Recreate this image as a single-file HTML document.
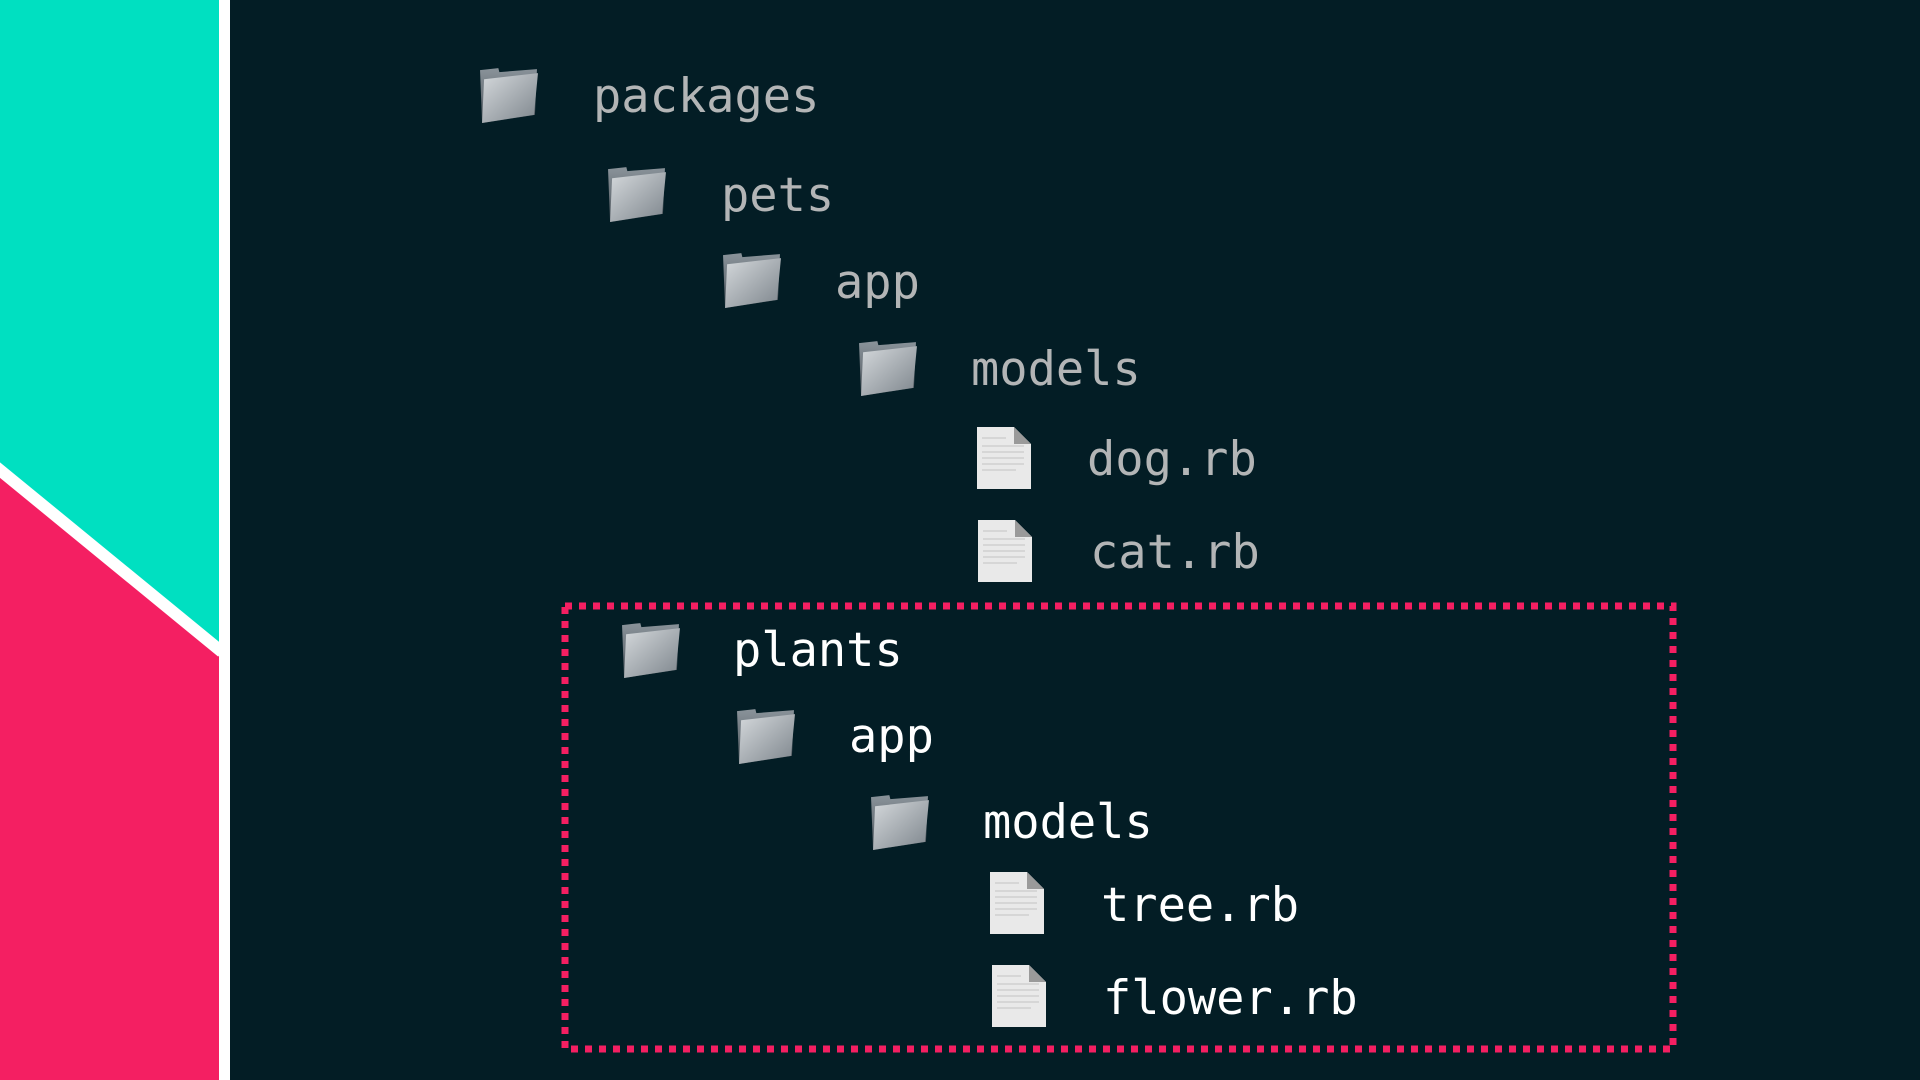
<!DOCTYPE html>
<html><head><meta charset="utf-8"><style>
body{margin:0;width:1920px;height:1080px;background:#031d25;position:relative;overflow:hidden;font-family:"DejaVu Sans Mono","Liberation Mono",monospace}
.t{position:absolute;font-size:47px;line-height:60px;color:#b3b5b6;white-space:pre}
.w{color:#fff}
.i{position:absolute}
</style></head><body>
<svg width="240" height="1080" style="position:absolute;left:0;top:0">
<rect x="0" y="0" width="222" height="1080" fill="#00e0c1"/>
<polygon points="0,470 222,655 222,1080 0,1080" fill="#f41f62"/>
<line x1="-5" y1="466" x2="222" y2="652" stroke="#fff" stroke-width="12"/>
<rect x="219" y="0" width="11" height="1080" fill="#fff"/>
</svg>
<svg width="0" height="0" style="position:absolute">
<defs>
<linearGradient id="fg" x1="0" y1="0" x2="1" y2="1"><stop offset="0" stop-color="#d5d9dc"/><stop offset="1" stop-color="#7d858c"/></linearGradient>
<linearGradient id="bg" x1="0" y1="0" x2="0" y2="1"><stop offset="0" stop-color="#8a939a"/><stop offset="1" stop-color="#4d555c"/></linearGradient>
<symbol id="folder" viewBox="0 0 60 60"><path d="M2 6 L20 4 L21 8 L58 5 L56 50 L4 58 Z" fill="url(#bg)"/><path d="M6 15 L59 9 L55 50 L4 58 Z" fill="url(#fg)"/></symbol>
<symbol id="file" viewBox="0 0 56 64"><path d="M1 1 L38 1 L55 18 L55 63 L1 63 Z" fill="#e9e9e9"/><path d="M38 1 L38 18 L55 18 Z" fill="#9a9a9a"/><g stroke="#c4c4c4" stroke-width="1"><line x1="6" y1="12" x2="30" y2="12"/><line x1="6" y1="20" x2="48" y2="20"/><line x1="6" y1="26" x2="48" y2="26"/><line x1="6" y1="32" x2="48" y2="32"/><line x1="6" y1="38" x2="48" y2="38"/><line x1="6" y1="44" x2="40" y2="44"/></g></symbol>
</defs></svg>

<svg class="i" style="left:478px;top:64px" width="61" height="61"><use href="#folder"/></svg>
<div class="t" style="left:593px;top:67px">packages</div>
<svg class="i" style="left:606px;top:163px" width="61" height="61"><use href="#folder"/></svg>
<div class="t" style="left:721px;top:166px">pets</div>
<svg class="i" style="left:721px;top:249px" width="61" height="61"><use href="#folder"/></svg>
<div class="t" style="left:835px;top:253px">app</div>
<svg class="i" style="left:857px;top:337px" width="61" height="61"><use href="#folder"/></svg>
<div class="t" style="left:971px;top:340px">models</div>
<svg class="i" style="left:976px;top:426px" width="56" height="64"><use href="#file"/></svg>
<div class="t" style="left:1087px;top:430px">dog.rb</div>
<svg class="i" style="left:977px;top:519px" width="56" height="64"><use href="#file"/></svg>
<div class="t" style="left:1090px;top:523px">cat.rb</div>

<svg class="i" style="left:0;top:0" width="1920" height="1080"><rect x="565" y="606" width="1108" height="443" fill="none" stroke="#f41f62" stroke-width="7" stroke-dasharray="7 7"/></svg>

<svg class="i" style="left:620px;top:619px" width="61" height="61"><use href="#folder"/></svg>
<div class="t w" style="left:733px;top:621px">plants</div>
<svg class="i" style="left:735px;top:705px" width="61" height="61"><use href="#folder"/></svg>
<div class="t w" style="left:849px;top:707px">app</div>
<svg class="i" style="left:869px;top:791px" width="61" height="61"><use href="#folder"/></svg>
<div class="t w" style="left:983px;top:793px">models</div>
<svg class="i" style="left:989px;top:871px" width="56" height="64"><use href="#file"/></svg>
<div class="t w" style="left:1101px;top:876px">tree.rb</div>
<svg class="i" style="left:991px;top:964px" width="56" height="64"><use href="#file"/></svg>
<div class="t w" style="left:1103px;top:969px">flower.rb</div>
</body></html>
